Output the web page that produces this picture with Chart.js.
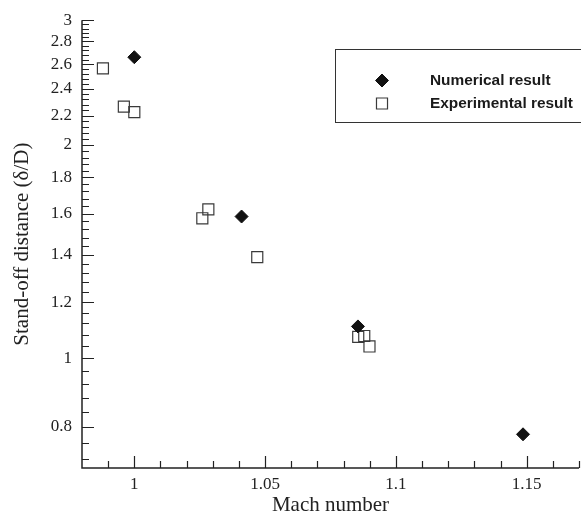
<!DOCTYPE html>
<html>
<head>
<meta charset="utf-8">
<title>Stand-off distance vs Mach number</title>
<script src="https://cdn.jsdelivr.net/npm/chart.js@4.4.1/dist/chart.umd.min.js"></script>
<style>
    html, body { margin: 0; padding: 0; background: #fff; }
    #wrap { width: 581px; height: 522px; }
</style>
</head>
<body>
<div id="wrap"><canvas id="standoffChart" width="581" height="522"></canvas></div>
<script>
// Numerical result (filled diamonds)
const numMach = [1.0, 1.041, 1.0855, 1.1486];
const numStandoff = [2.66, 1.585, 1.109, 0.781];

// Experimental result (open squares)
const expMach = [0.988, 0.996, 1.0, 1.026, 1.0283, 1.047, 1.0856, 1.0879, 1.0899];
const expStandoff = [2.565, 2.265, 2.225, 1.576, 1.622, 1.389, 1.072, 1.075, 1.039];

// Axis ticks
const xTickValues = [1, 1.05, 1.1, 1.15];
const xTickLabels = ['1', '1.05', '1.1', '1.15'];
const yTickValues = [0.8, 1, 1.2, 1.4, 1.6, 1.8, 2, 2.2, 2.4, 2.6, 2.8, 3];
const yTickLabels = ['0.8', '1', '1.2', '1.4', '1.6', '1.8', '2', '2.2', '2.4', '2.6', '2.8', '3'];

const axisColor = '#222';
const serif = '"Liberation Serif", "Times New Roman", serif';

function toPoints(xs, ys) {
    return xs.map(function (x, i) { return { x: x, y: ys[i] }; });
}

// ticks drawn inside the plot, like the old Tecplot style
const inwardTicks = {
    id: 'inwardTicks',
    beforeDatasetsDraw: function (chart) {
        const ctx = chart.ctx;
        const area = chart.chartArea;
        const xs = chart.scales.x;
        const ys = chart.scales.y;
        ctx.save();
        ctx.strokeStyle = axisColor;

        // axis lines
        ctx.lineWidth = 1.5;
        ctx.beginPath();
        ctx.moveTo(area.left, area.top);
        ctx.lineTo(area.left, area.bottom);
        ctx.lineTo(area.right, area.bottom);
        ctx.stroke();

        ctx.lineWidth = 1.2;
        ctx.beginPath();
        // x ticks, minor every 0.01
        for (let i = 99; i <= 117; i++) {
            const px = Math.round(xs.getPixelForValue(i / 100)) + 0.5;
            const len = (i % 5 === 0) ? 12 : 7;
            ctx.moveTo(px, area.bottom);
            ctx.lineTo(px, area.bottom - len);
        }
        // y ticks, minor every 0.04
        for (let i = 18; i <= 75; i++) {
            const py = Math.round(ys.getPixelForValue(i * 0.04)) + 0.5;
            const len = (i % 5 === 0) ? 12 : 7;
            ctx.moveTo(area.left, py);
            ctx.lineTo(area.left + len, py);
        }
        ctx.stroke();
        ctx.restore();
    }
};

// boxed legend in the upper right
const boxLegend = {
    id: 'boxLegend',
    afterDraw: function (chart) {
        const ctx = chart.ctx;
        ctx.save();
        ctx.strokeStyle = '#333';
        ctx.lineWidth = 1;
        ctx.strokeRect(335.5, 49.5, 260, 73);

        const rows = [
            { ds: chart.data.datasets[0], y: 80.5 },
            { ds: chart.data.datasets[1], y: 103.5 }
        ];
        rows.forEach(function (row) {
            ctx.fillStyle = row.ds.pointBackgroundColor;
            ctx.strokeStyle = row.ds.pointBorderColor;
            ctx.lineWidth = row.ds.pointBorderWidth;
            Chart.helpers.drawPoint(ctx, {
                pointStyle: row.ds.pointStyle,
                radius: row.ds.pointRadius,
                rotation: 0,
                borderWidth: row.ds.pointBorderWidth
            }, 382, row.y);
            ctx.fillStyle = '#1a1a1a';
            ctx.font = 'bold 15.4px "Liberation Sans", Arial, sans-serif';
            ctx.textAlign = 'left';
            ctx.textBaseline = 'middle';
            ctx.fillText(row.ds.label, 430, row.y);
        });
        ctx.restore();
    }
};

new Chart(document.getElementById('standoffChart'), {
    type: 'scatter',
    data: {
        datasets: [{
            label: 'Numerical result',
            data: toPoints(numMach, numStandoff),
            pointStyle: 'rectRot',
            pointRadius: 6.5,
            pointBackgroundColor: '#111',
            pointBorderColor: '#111',
            pointBorderWidth: 1
        }, {
            label: 'Experimental result',
            data: toPoints(expMach, expStandoff),
            pointStyle: 'rect',
            pointRadius: 7.8,
            pointBackgroundColor: 'rgba(0,0,0,0)',
            pointBorderColor: '#3a3a3a',
            pointBorderWidth: 1.2
        }]
    },
    options: {
        responsive: false,
        animation: false,
        devicePixelRatio: 1,
        layout: {
            autoPadding: false,
            padding: { left: 0, right: 2, top: 15, bottom: 0 }
        },
        plugins: {
            legend: { display: false },
            tooltip: { enabled: false }
        },
        scales: {
            x: {
                type: 'linear',
                min: 0.98,
                max: 1.17,
                afterBuildTicks: function (scale) {
                    scale.ticks = xTickValues.map(function (v) { return { value: v }; });
                },
                afterFit: function (scale) { scale.height = 54; },
                grid: { display: false, drawTicks: false },
                border: { display: false },
                ticks: {
                    padding: 6,
                    color: axisColor,
                    font: { family: serif, size: 17 },
                    maxRotation: 0,
                    callback: function (value) {
                        const i = xTickValues.indexOf(value);
                        return i >= 0 ? xTickLabels[i] : '';
                    }
                },
                title: {
                    display: true,
                    text: 'Mach number',
                    color: axisColor,
                    font: { family: serif, size: 21 },
                    padding: { top: 0, bottom: 4 }
                }
            },
            y: {
                type: 'logarithmic',
                min: 0.7,
                max: 3,
                afterBuildTicks: function (scale) {
                    scale.ticks = yTickValues.map(function (v) { return { value: v }; });
                },
                afterFit: function (scale) { scale.width = 82; },
                grid: { display: false, drawTicks: false },
                border: { display: false },
                ticks: {
                    padding: 10,
                    color: axisColor,
                    font: { family: serif, size: 17 },
                    autoSkip: false,
                    callback: function (value) {
                        const i = yTickValues.indexOf(value);
                        return i >= 0 ? yTickLabels[i] : '';
                    }
                },
                title: {
                    display: true,
                    text: 'Stand-off distance (δ/D)',
                    color: axisColor,
                    font: { family: serif, size: 21 },
                    padding: { top: 10, bottom: 0 }
                }
            }
        }
    },
    plugins: [inwardTicks, boxLegend]
});
</script>
</body>
</html>
